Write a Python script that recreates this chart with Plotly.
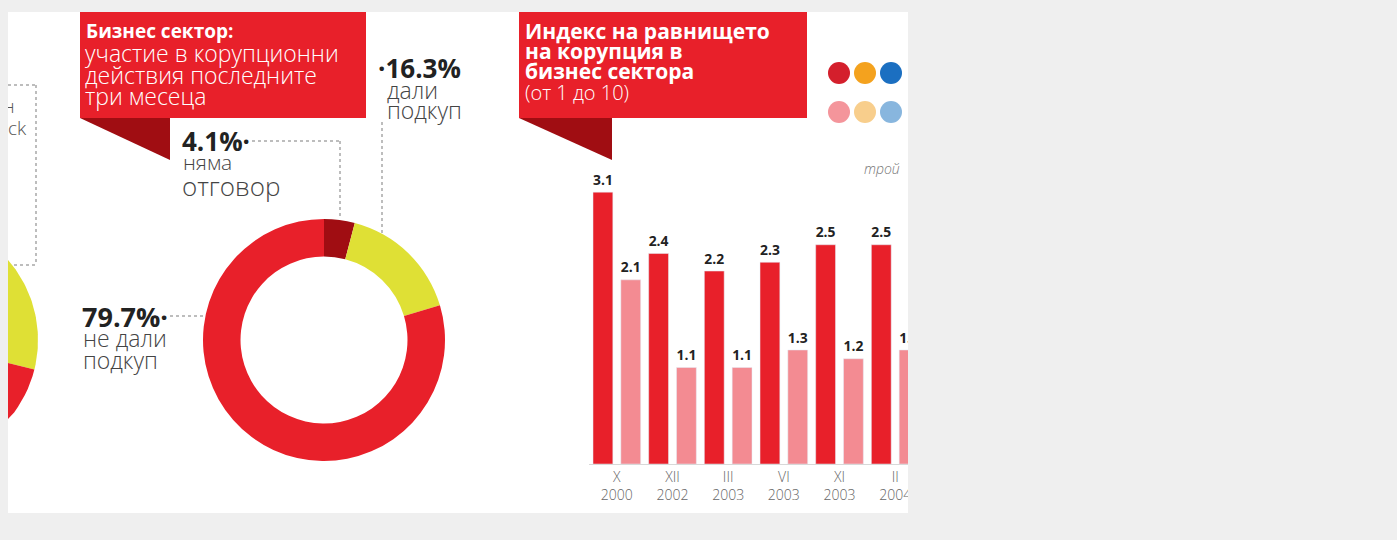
import math
import plotly.graph_objects as go

W, H = 1397, 540
OX, OY = 8, 8  # page body offset of the plot div

# ---------------- data ----------------
donut_labels = ["няма отговор", "дали подкуп", "не дали подкуп"]
donut_values = [4.1, 16.3, 79.7]

left_pie_labels = ["дали подкуп", "не дали подкуп"]
left_pie_values = [28.9, 71.1]

bar_periods = ["X<br>2000", "XII<br>2002", "III<br>2003", "VI<br>2003", "XI<br>2003", "II<br>2004"]
bar_series_a = [3.1, 2.4, 2.2, 2.3, 2.5, 2.5]
bar_series_b = [2.1, 1.1, 1.1, 1.3, 1.2, 1.3]

# ---------------- styles ----------------
RED = "#e8202a"
DARK_RED = "#a00d12"
YELLOW = "#dfe035"
PINK = "#f38b92"
BG = "#efefef"
FONT = "Open Sans"


def px(x):
    return (x - OX) / W


def py(y):
    return 1 - (y - OY) / H


fig = go.Figure()

# Donut
fig.add_trace(go.Pie(
    labels=donut_labels, values=donut_values, hole=0.69, sort=False,
    direction="clockwise", rotation=0,
    marker=dict(colors=[DARK_RED, YELLOW, RED], line=dict(width=0)),
    textinfo="none", hoverinfo="label+value", showlegend=False,
    domain=dict(x=[px(203), px(445)], y=[py(461), py(219)]),
))

# Bars
fig.add_trace(go.Bar(
    x=bar_periods, y=bar_series_a, marker_color=RED, name="a",
    text=[f"{v:.1f}" for v in bar_series_a], textposition="outside",
    textfont=dict(family=FONT, size=16, color="#222", weight=700),
    showlegend=False, xaxis="x", yaxis="y",
))
fig.add_trace(go.Bar(
    x=bar_periods, y=bar_series_b, marker_color=PINK, name="b",
    text=[f"{v:.1f}" for v in bar_series_b], textposition="outside",
    textfont=dict(family=FONT, size=16, color="#222", weight=700),
    showlegend=False, xaxis="x", yaxis="y",
))

# Left partial pie (only its right edge is visible), drawn in a pixel-space axis
cx, cy, r = -84, 340, 122
pie_colors = [YELLOW, RED]
start = 0.0
total = sum(left_pie_values)
for val, col, lab in zip(left_pie_values, pie_colors, left_pie_labels):
    a0 = start / total * 2 * math.pi
    a1 = (start + val) / total * 2 * math.pi
    n = 80
    xs = [cx]
    ys = [cy]
    for i in range(n + 1):
        a = a0 + (a1 - a0) * i / n
        xs.append(cx + r * math.sin(a))
        ys.append(cy - r * math.cos(a))
    xs.append(cx)
    ys.append(cy)
    fig.add_trace(go.Scatter(
        x=xs, y=ys, fill="toself", fillcolor=col, mode="lines",
        line=dict(width=0, color=col), hoverinfo="text", text=lab,
        showlegend=False, xaxis="x3", yaxis="y3",
    ))
    start += val

px_per_unit = 87.7
baseline = 464
cat_w = 55.67
x_left = 589
x_right = 930
fig.update_layout(
    width=W, height=H,
    margin=dict(l=0, r=0, t=0, b=0),
    paper_bgcolor=BG, plot_bgcolor="rgba(0,0,0,0)",
    barmode="group", bargap=0.0, bargroupgap=0.288,
    xaxis=dict(domain=[px(x_left), px(x_right)],
               range=[-0.5, -0.5 + (x_right - x_left) / cat_w],
               showgrid=False, zeroline=False, showline=True, linecolor="#d8d8d8",
               ticks="", tickfont=dict(family=FONT, size=14, color="#666", weight=300),
               fixedrange=True),
    yaxis=dict(domain=[py(baseline), py(160)], range=[0, (baseline - 160) / px_per_unit],
               visible=False, fixedrange=True),
    xaxis3=dict(domain=[px(8), px(60)], range=[8, 60], visible=False),
    yaxis3=dict(domain=[py(513), py(12)], range=[513, 12], visible=False),
)

shapes = []


def rect(x0, y0, x1, y1, color, layer="below"):
    shapes.append(dict(type="rect", xref="paper", yref="paper",
                       x0=px(x0), x1=px(x1), y0=py(y1), y1=py(y0),
                       fillcolor=color, line=dict(width=0), layer=layer))


def tri(pts, color):
    d = "M " + " L ".join(f"{px(x)},{py(y)}" for x, y in pts) + " Z"
    shapes.append(dict(type="path", xref="paper", yref="paper", path=d,
                       fillcolor=color, line=dict(width=0), layer="below"))


def dotted(x0, y0, x1, y1):
    shapes.append(dict(type="line", xref="paper", yref="paper",
                       x0=px(x0), x1=px(x1), y0=py(y0), y1=py(y1),
                       line=dict(color="#a8a8a8", width=1.5, dash="dot"), layer="below"))


def dot(x, y, rr, color):
    shapes.append(dict(type="circle", xref="paper", yref="paper",
                       x0=px(x - rr), x1=px(x + rr), y0=py(y + rr), y1=py(y - rr),
                       fillcolor=color, line=dict(width=0), layer="below"))


rect(8, 12, 908, 513, "white")
rect(80, 12, 366, 118, RED)
tri([(80, 118), (170, 118), (170, 160)], DARK_RED)
rect(519, 12, 807, 118, RED)
tri([(519, 118), (612, 118), (612, 160)], DARK_RED)

# leader lines
dotted(8, 85, 36, 85)
dotted(36, 85, 36, 265)
dotted(8, 265, 36, 265)
dotted(252, 141, 340, 141)
dotted(340, 141, 340, 218)
dotted(382, 122, 382, 250)
dotted(170, 316, 203, 316)

# legend dots
for i, c in enumerate(["#d41f2c", "#f4a21e", "#1b6fc1"]):
    dot(839 + 26 * i, 73, 11, c)
for i, c in enumerate(["#f4959b", "#f8ce8c", "#88b6de"]):
    dot(839 + 26 * i, 112, 11, c)

# cover for the area outside the white panel
rect(908, 0, W + OX, H + OY, BG, layer="above")
rect(0, 513, W + OX, H + OY, BG, layer="above")

fig.update_layout(shapes=shapes)

ann = []


def text(x, y, s, size, color="#333", weight=400, xanchor="left", style="normal"):
    ann.append(dict(x=px(x), y=py(y), xref="paper", yref="paper", text=s,
                    showarrow=False, xanchor=xanchor, yanchor="middle",
                    font=dict(family=FONT, size=size, color=color, weight=weight, style=style)))


# header 1
text(84, 31, "Бизнес сектор:", 19, "white", 700)
text(83, 53, "участие в корупционни", 23, "white", 300)
text(83, 75, "действия последните", 23, "white", 300)
text(83, 96, "три месеца", 23, "white", 300)

# header 2
text(523, 31, "Индекс на равнището", 21, "white", 700)
text(523, 51, "на корупция в", 21, "white", 700)
text(523, 71, "бизнес сектора", 21, "white", 700)
text(523, 92, "(от 1 до 10)", 20, "white", 300)

BUL = "<b>·</b>"
# donut labels
text(180, 141, "<b>4.1%</b>" + BUL, 26, "#222")
text(181, 162, "няма", 21, "#444", 300)
text(180, 186, "отговор", 26, "#444", 300)

text(376, 68, BUL + "<b>16.3%</b>", 26, "#222")
text(385, 90, "дали", 23, "#444", 300)
text(385, 110, "подкуп", 23, "#444", 300)

text(80, 316, "<b>79.7%</b>" + BUL, 27, "#222")
text(81, 338, "не дали", 23, "#444", 300)
text(81, 360, "подкуп", 23, "#444", 300)

# cut-off text at far left
text(17, 106, "н", 19, "#555", 300, xanchor="right")
text(29, 128, "ck", 19, "#555", 300, xanchor="right")

# cut-off legend text
text(862, 168, "трой", 14, "#777", 300, style="italic")

fig.update_layout(annotations=ann)

fig.write_html("out.html", post_script="document.body.style.background='#efefef';")
